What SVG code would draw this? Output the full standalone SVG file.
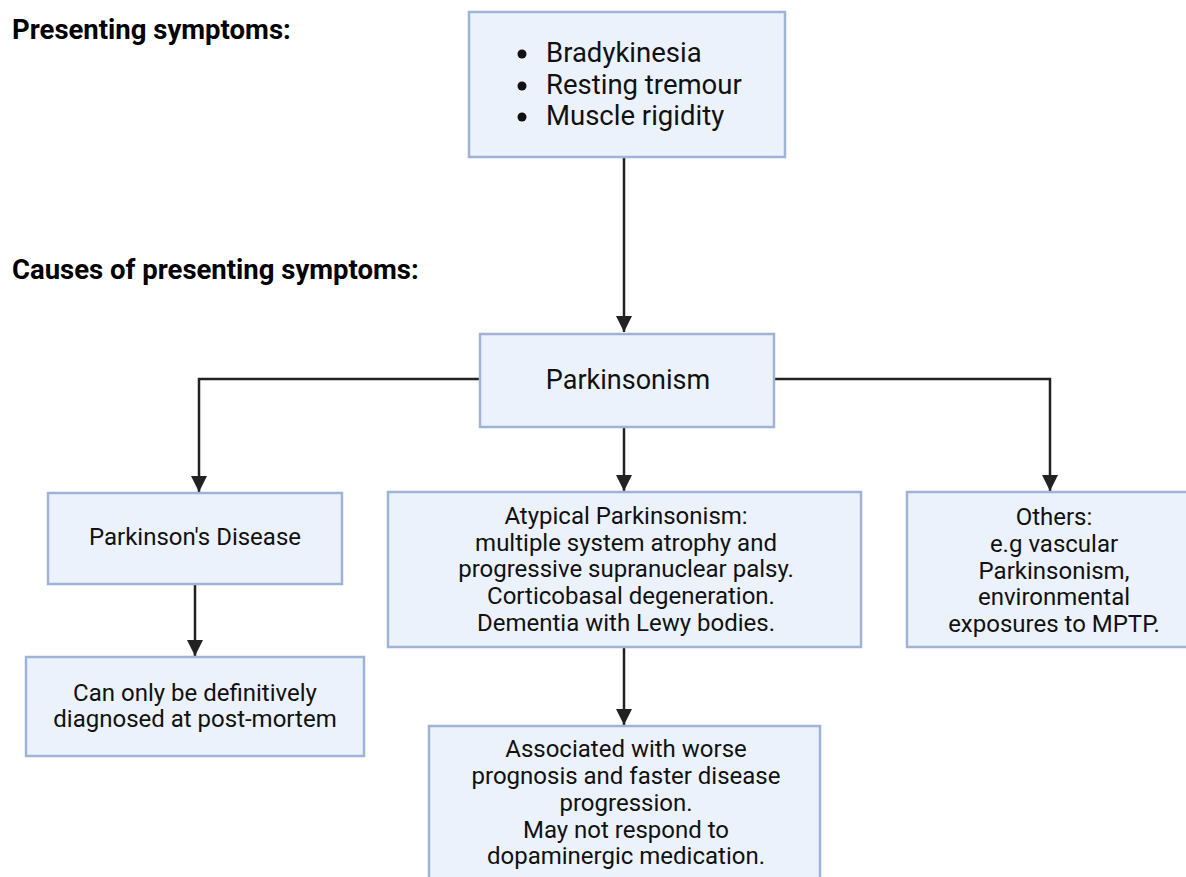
<svg xmlns="http://www.w3.org/2000/svg" width="1186" height="877" viewBox="0 0 1186 877">
<style>
.box{fill:#ECF2FC;stroke:#9EB3D6;stroke-width:2.5}
.t{font-family:Roboto,"Liberation Sans",sans-serif;font-size:24px;fill:#111;text-anchor:middle}
.h{font-family:Roboto,"Liberation Sans",sans-serif;font-size:27.5px;font-weight:bold;fill:#000}
.c{fill:none;stroke:#222;stroke-width:2.5}
</style>
<defs>
<marker id="arr" markerUnits="userSpaceOnUse" markerWidth="16" markerHeight="16" refX="16" refY="8" orient="auto">
<path d="M0,0 L16,8 L0,16 z" fill="#222"/>
</marker>
</defs>
<rect width="1186" height="877" fill="#fff"/>
<text class="h" x="12" y="39">Presenting symptoms:</text>
<text class="h" x="12" y="279">Causes of presenting symptoms:</text>
<g id="connectors">
<path class="c" d="M624 157 V332" marker-end="url(#arr)"/>
<path class="c" d="M624 427 V491" marker-end="url(#arr)"/>
<path class="c" d="M480 379 H199 V492" marker-end="url(#arr)"/>
<path class="c" d="M774 379 H1050 V491" marker-end="url(#arr)"/>
<path class="c" d="M195 584 V656" marker-end="url(#arr)"/>
<path class="c" d="M624 647 V725" marker-end="url(#arr)"/>
</g>
<g id="symptoms">
<rect class="box" x="469" y="12" width="316" height="145"/>
<g style="font-family:Roboto,'Liberation Sans',sans-serif;font-size:27.5px;fill:#111">
<circle cx="522" cy="54" r="4.5" fill="#111"/>
<circle cx="522" cy="86" r="4.5" fill="#111"/>
<circle cx="522" cy="117" r="4.5" fill="#111"/>
<text x="546" y="62">Bradykinesia</text>
<text x="546" y="94">Resting tremour</text>
<text x="546" y="125">Muscle rigidity</text>
</g>
</g>
<g id="parkinsonism">
<rect class="box" x="480" y="334" width="294" height="93"/>
<text class="t" x="628" y="389" style="font-size:27px">Parkinsonism</text>
</g>
<g id="pd">
<rect class="box" x="48" y="493" width="294" height="91"/>
<text class="t" x="195" y="545">Parkinson's Disease</text>
</g>
<g id="postmortem">
<rect class="box" x="26" y="657" width="338" height="99"/>
<text class="t" x="195" y="701">Can only be definitively</text>
<text class="t" x="195" y="727">diagnosed at post-mortem</text>
</g>
<g id="atypical">
<rect class="box" x="388" y="492" width="473" height="155"/>
<text class="t" x="626" y="524">Atypical Parkinsonism:</text>
<text class="t" x="626" y="551">multiple system atrophy and</text>
<text class="t" x="626" y="577">progressive supranuclear palsy.</text>
<text class="t" x="631" y="604">Corticobasal degeneration.</text>
<text class="t" x="626" y="631">Dementia with Lewy bodies.</text>
</g>
<g id="others">
<rect class="box" x="907" y="492" width="290" height="155"/>
<text class="t" x="1054" y="525">Others:</text>
<text class="t" x="1054" y="552">e.g vascular</text>
<text class="t" x="1054" y="579">Parkinsonism,</text>
<text class="t" x="1054" y="605">environmental</text>
<text class="t" x="1054" y="632">exposures to MPTP.</text>
</g>
<g id="prognosis">
<rect class="box" x="429" y="726" width="391" height="170"/>
<text class="t" x="626" y="757">Associated with worse</text>
<text class="t" x="626" y="784">prognosis and faster disease</text>
<text class="t" x="626" y="811">progression.</text>
<text class="t" x="626" y="838">May not respond to</text>
<text class="t" x="626" y="864">dopaminergic medication.</text>
</g>
</svg>
